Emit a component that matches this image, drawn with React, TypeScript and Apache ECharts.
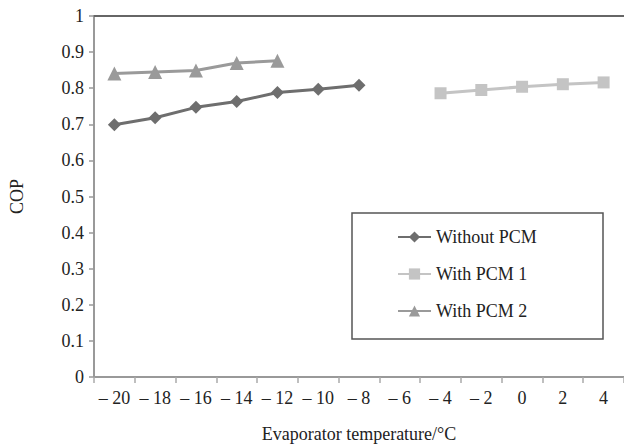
import React, { useEffect, useRef } from "react";
import * as echarts from "echarts";

const categories = ["– 20", "– 18", "– 16", "– 14", "– 12", "– 10", "– 8", "– 6", "– 4", "– 2", "0", "2", "4"];
const withoutPCM = [0.699, 0.718, 0.747, 0.763, 0.788, 0.797, 0.808, null, null, null, null, null, null];
const withPCM1 = [null, null, null, null, null, null, null, null, 0.786, 0.795, 0.804, 0.811, 0.816];
const withPCM2 = [0.841, 0.845, 0.849, 0.870, 0.876, null, null, null, null, null, null, null, null];

const FONT = "'Liberation Serif', 'Times New Roman', serif";

export default function App() {
  const ref = useRef<HTMLDivElement>(null);
  useEffect(() => {
    const chart = echarts.init(ref.current!, null, { renderer: "svg" });
    chart.setOption({
      animation: false,
      backgroundColor: "#ffffff",
      textStyle: { fontFamily: FONT },
      grid: { left: 89, top: 16, width: 540, height: 365, containLabel: false },
      legend: {
        orient: "vertical",
        left: 392,
        top: 223,
        itemWidth: 33,
        itemHeight: 14,
        itemGap: 19,
        textStyle: { fontFamily: FONT, fontSize: 18, color: "#222" },
        data: ["Without PCM", "With PCM 1", "With PCM 2"],
      },
      graphic: [
        {
          type: "rect",
          shape: { x: 352, y: 213, width: 251, height: 126 },
          style: { fill: "transparent", stroke: "#555", lineWidth: 1.5 },
          z: 0,
        },
      ],
      xAxis: [
        {
          type: "category",
          data: categories,
          boundaryGap: true,
          name: "Evaporator temperature/°C",
          nameLocation: "middle",
          nameGap: 48,
          nameTextStyle: { fontFamily: FONT, fontSize: 18, color: "#222" },
          axisLine: { lineStyle: { color: "#999", width: 2 } },
          axisTick: { show: true, length: 6, lineStyle: { color: "#aaa", width: 1.5 } },
          axisLabel: { fontFamily: FONT, fontSize: 18, color: "#222", margin: 12, interval: 0 },
          splitLine: { show: false },
        },
        {
          type: "category",
          data: categories,
          position: "top",
          axisLine: { lineStyle: { color: "#666", width: 2 } },
          axisTick: { show: false },
          axisLabel: { show: false },
          splitLine: { show: false },
        },
      ],
      yAxis: {
        type: "value",
        min: 0,
        max: 1,
        interval: 0.1,
        name: "COP",
        nameLocation: "middle",
        nameGap: 68,
        nameRotate: 90,
        nameTextStyle: { fontFamily: FONT, fontSize: 18, color: "#222" },
        axisLine: { show: true, lineStyle: { color: "#999", width: 2 } },
        axisTick: { show: true, length: 5, lineStyle: { color: "#999", width: 1.5 } },
        axisLabel: { fontFamily: FONT, fontSize: 18, color: "#222", margin: 10 },
        splitLine: { show: false },
      },
      series: [
        {
          name: "Without PCM",
          type: "line",
          data: withoutPCM,
          symbol: "diamond",
          symbolSize: 13,
          lineStyle: { color: "#6e6e6e", width: 3 },
          itemStyle: { color: "#6e6e6e" },
        },
        {
          name: "With PCM 1",
          type: "line",
          data: withPCM1,
          symbol: "rect",
          symbolSize: 12,
          lineStyle: { color: "#c4c4c4", width: 3 },
          itemStyle: { color: "#c4c4c4" },
        },
        {
          name: "With PCM 2",
          type: "line",
          data: withPCM2,
          symbol: "triangle",
          symbolSize: 14,
          lineStyle: { color: "#9a9a9a", width: 3 },
          itemStyle: { color: "#9a9a9a" },
        },
      ],
    });
    return () => chart.dispose();
  }, []);
  return <div ref={ref} style={{ width: 624, height: 448, position: "absolute", left: 0, top: 0 }} />;
}
